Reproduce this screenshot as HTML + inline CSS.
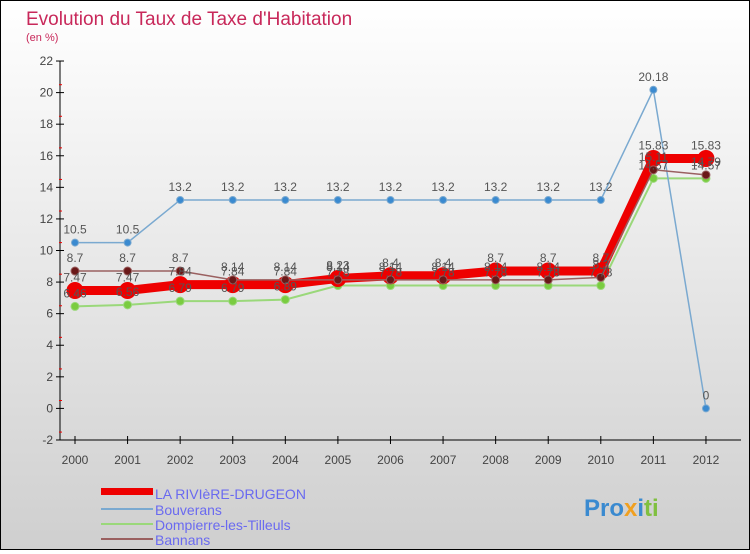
<!DOCTYPE html>
<html><head><meta charset="utf-8"><style>
html,body{margin:0;padding:0}
body{width:750px;height:550px;overflow:hidden;font-family:"Liberation Sans",sans-serif}
#wrap{position:relative;width:748px;height:548px;border:1px solid #000;background:linear-gradient(#ffffff,#cfcfcf)}
</style></head><body>
<div id="wrap">
<svg id="chart" width="748" height="548" xmlns="http://www.w3.org/2000/svg">
<text x="25" y="24" font-size="19" fill="#c8285a">Evolution du Taux de Taxe d'Habitation</text>
<text x="25" y="40" font-size="11" fill="#c8285a">(en %)</text>
<g id="axes"></g><g id="series"></g><g id="labels"></g>
<g>
<rect x="100" y="487" width="52" height="7" fill="#e00"/>
<text x="154" y="498" font-size="14" fill="#6a6af0">LA RIVIèRE-DRUGEON</text>
<rect x="100" y="507" width="52" height="2" fill="#7aa9d0"/>
<text x="154" y="514" font-size="14" fill="#6a6af0">Bouverans</text>
<rect x="100" y="522" width="52" height="2" fill="#9ad87a"/>
<text x="154" y="529" font-size="14" fill="#6a6af0">Dompierre-les-Tilleuls</text>
<rect x="100" y="537" width="52" height="2" fill="#9a6060"/>
<text x="154" y="544" font-size="14" fill="#6a6af0">Bannans</text>
</g>
<text x="583" y="515" font-size="24" font-weight="bold"><tspan fill="#3a8ad0">Pro</tspan><tspan fill="#f0a020">x</tspan><tspan fill="#3a8ad0">i</tspan><tspan fill="#80c040">ti</tspan></text>
</svg>
</div>
<script>
const years=["2000","2001","2002","2003","2004","2005","2006","2007","2008","2009","2010","2011","2012"];
const yTicks=[-2,0,2,4,6,8,10,12,14,16,18,20,22];
const riviere=[7.47,7.47,7.84,7.84,7.84,8.23,8.4,8.4,8.7,8.7,8.7,15.83,15.83];
const bouverans=[10.5,10.5,13.2,13.2,13.2,13.2,13.2,13.2,13.2,13.2,13.2,20.18,0];
const dompierre=[6.46,6.56,6.79,6.79,6.89,7.78,7.78,7.78,7.78,7.78,7.78,14.57,14.57];
const bannans=[8.7,8.7,8.7,8.14,8.14,8.14,8.14,8.14,8.14,8.14,8.3,15.11,14.79];
const NS="http://www.w3.org/2000/svg";
function X(i){return 74+i*52.58;}
function Y(v){return 407.4-v*15.79;}
function mk(t,a,p){const e=document.createElementNS(NS,t);for(const k in a)e.setAttribute(k,a[k]);p.appendChild(e);return e;}
const axes=document.getElementById('axes'),ser=document.getElementById('series'),lab=document.getElementById('labels');
let l=mk('line',{x1:59,y1:60,x2:59,y2:439,stroke:'#000'},axes);


l=mk('line',{x1:59,y1:439,x2:740,y2:439,stroke:'#000'},axes);


yTicks.forEach(v=>{const y=Y(v);
mk('line',{x1:55,y1:y,x2:63,y2:y,stroke:'#000'},axes);
if(v<22)mk('line',{x1:58,y1:y-7.9,x2:61,y2:y-7.9,stroke:'#e00'},axes);
const t=mk('text',{x:52,y:y+4,'font-size':12,fill:'#444','text-anchor':'end'},axes);t.textContent=v;

});
years.forEach((yr,i)=>{mk('line',{x1:X(i),y1:435,x2:X(i),y2:443,stroke:'#000'},axes);
const t=mk('text',{x:X(i),y:463,'font-size':12,fill:'#444','text-anchor':'middle'},axes);t.textContent=yr;

});
function series(data,color,w,r,name,dotFill){
const g=mk('g',{},ser);


mk('polyline',{points:data.map((v,i)=>X(i)+','+Y(v)).join(' '),fill:'none',stroke:color,'stroke-width':w},g);
data.forEach((v,i)=>{const c=mk('circle',{cx:X(i),cy:Y(v),r:r,fill:dotFill,stroke:color,'stroke-width':1},g);


const t=mk('text',{x:X(i),y:Y(v)-9,'font-size':12,fill:'#555','text-anchor':'middle'},lab);t.textContent=v;});}
series(dompierre,'#9ad87a',2,4,'dompierre','#7acc40');
series(bouverans,'#7aa9d0',1.5,3.5,'bouverans','#3a8ad0');
series(riviere,'#ee0000',9,8,'la-riviere','#ee0000');
series(bannans,'#9a6060',1.5,4,'bannans','#6a1818');
</script>
</body></html>
